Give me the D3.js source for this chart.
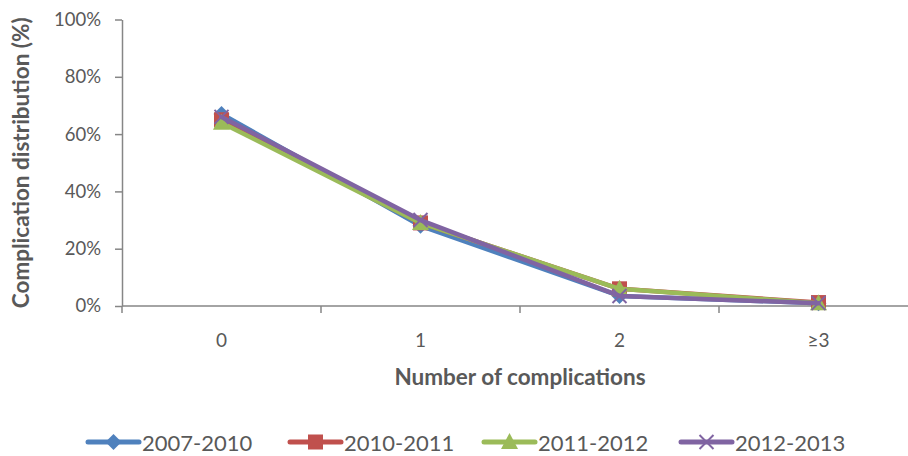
<!DOCTYPE html>
<html>
<head>
<meta charset="utf-8">
<script src="https://cdn.jsdelivr.net/npm/d3@7/dist/d3.min.js"></script>
<style>
  html, body { margin: 0; padding: 0; background: #fff; }
  svg { display: block; }
  text { font-family: Lato, "Open Sans", sans-serif; fill: #595959; }
</style>
</head>
<body>
<svg id="chart" width="908" height="456"></svg>
<script>
// Number of complications per patient, share of patients by period
const categories = ["0", "1", "2", "\u22653"];
const seriesNames = ["2007-2010", "2010-2011", "2011-2012", "2012-2013"];
const values2007 = [0.670, 0.280, 0.035, 0.010];
const values2010 = [0.650, 0.290, 0.060, 0.012];
const values2011 = [0.640, 0.290, 0.060, 0.010];
const values2012 = [0.660, 0.300, 0.035, 0.010];
const colors = ["#4F81BD", "#C0504D", "#9BBB59", "#8064A2"];
const markers = ["diamond", "square", "triangle", "cross"];
const yTicks = [0, 0.2, 0.4, 0.6, 0.8, 1.0];

const series = seriesNames.map((name, i) => ({
  name,
  values: [values2007, values2010, values2011, values2012][i],
  color: colors[i],
  marker: markers[i]
}));

const svg = d3.select("#chart");
const plot = { left: 122, right: 918, top: 19.5, bottom: 306 };

const x = d3.scaleBand().domain(categories).range([plot.left, plot.right]);
const y = d3.scaleLinear().domain([0, 1]).range([plot.bottom, plot.top]);
const cx = c => x(c) + x.bandwidth() / 2;

const axisColor = "#868686";

// Y axis
const yAxis = svg.append("g")
  .attr("transform", `translate(${plot.left},0)`)
  .call(d3.axisLeft(y).tickValues(yTicks).tickFormat(d3.format(".0%")).tickSizeInner(7).tickSizeOuter(0).tickPadding(14));
yAxis.select(".domain").attr("stroke", axisColor).attr("stroke-width", 1.5);
yAxis.selectAll(".tick line").attr("stroke", axisColor).attr("stroke-width", 1.5);
yAxis.selectAll(".tick text").attr("font-size", 18.5).attr("fill", "#595959").attr("font-family", "Lato");

// X axis with ticks at category boundaries
const xAxis = svg.append("g")
  .attr("transform", `translate(0,${plot.bottom})`);
xAxis.append("line")
  .attr("x1", plot.left).attr("x2", plot.right)
  .attr("stroke", axisColor).attr("stroke-width", 1.5);
const bounds = categories.map(c => x(c)).concat([plot.right]);
xAxis.selectAll("line.tick").data(bounds).enter().append("line")
  .attr("class", "tick")
  .attr("x1", d => d).attr("x2", d => d)
  .attr("y1", 0).attr("y2", 7)
  .attr("stroke", axisColor).attr("stroke-width", 1.5);
xAxis.selectAll("text.cat").data(categories).enter().append("text")
  .attr("class", "cat")
  .attr("x", d => cx(d)).attr("y", 41)
  .attr("text-anchor", "middle")
  .attr("font-size", 19)
  .text(d => d);

// Axis titles
svg.append("text")
  .attr("x", 520).attr("y", 385)
  .attr("text-anchor", "middle")
  .attr("font-size", 22.5).attr("font-weight", "bold")
  .text("Number of complications");
svg.append("text")
  .attr("transform", `translate(29,${(plot.top + plot.bottom) / 2}) rotate(-90)`)
  .attr("text-anchor", "middle")
  .attr("font-size", 22.5).attr("font-weight", "bold")
  .text("Complication distribution (%)");

// Marker shapes
function drawMarker(g, type, color, px, py) {
  if (type === "diamond") {
    g.append("path").attr("d", `M${px},${py - 8}L${px + 8},${py}L${px},${py + 8}L${px - 8},${py}Z`).attr("fill", color);
  } else if (type === "square") {
    g.append("rect").attr("x", px - 7.5).attr("y", py - 7.5).attr("width", 15).attr("height", 15).attr("fill", color);
  } else if (type === "triangle") {
    g.append("path").attr("d", `M${px},${py - 9}L${px + 8.5},${py + 7}L${px - 8.5},${py + 7}Z`).attr("fill", color);
  } else {
    g.append("path").attr("d", `M${px - 7},${py - 7}L${px + 7},${py + 7}M${px + 7},${py - 7}L${px - 7},${py + 7}`)
      .attr("stroke", color).attr("stroke-width", 2).attr("fill", "none");
  }
}

// Series lines and markers
const line = d3.line().x((d, i) => cx(categories[i])).y(d => y(d));
series.forEach(s => {
  const g = svg.append("g");
  g.append("path").datum(s.values)
    .attr("d", line)
    .attr("fill", "none")
    .attr("stroke", s.color)
    .attr("stroke-width", 4.5)
    .attr("stroke-linejoin", "round")
    .attr("stroke-linecap", "round");
  s.values.forEach((v, i) => drawMarker(g, s.marker, s.color, cx(categories[i]), y(v)));
});

// Legend
const legendX = [88, 290, 484, 681];
const legendY = 442;
series.forEach((s, i) => {
  const g = svg.append("g");
  const lx = legendX[i];
  g.append("line")
    .attr("x1", lx).attr("x2", lx + 51)
    .attr("y1", legendY).attr("y2", legendY)
    .attr("stroke", s.color).attr("stroke-width", 5).attr("stroke-linecap", "round");
  drawMarker(g, s.marker, s.color, lx + 25.5, legendY);
  g.append("text")
    .attr("x", lx + 54).attr("y", legendY + 8.5)
    .attr("font-size", 22)
    .text(s.name);
});
</script>
</body>
</html>
